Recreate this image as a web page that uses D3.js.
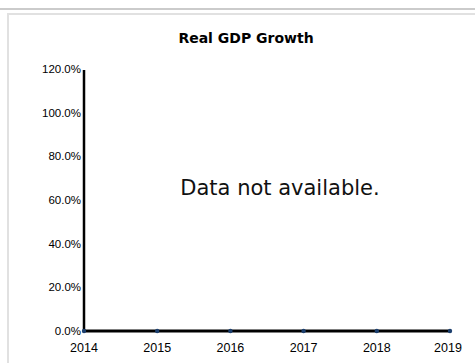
<!DOCTYPE html>
<html>
<head>
<meta charset="utf-8">
<script src="https://cdn.jsdelivr.net/npm/d3@7"></script>
<style>
  html, body { margin: 0; padding: 0; background: #fff; }
  svg { display: block; }
</style>
</head>
<body>
<div id="chart"></div>
<script>
// Chart data
const years = [2014, 2015, 2016, 2017, 2018, 2019];
const growth = [0, 0, 0, 0, 0, 0]; // no data reported, plotted at zero
const yTicks = [0, 0.2, 0.4, 0.6, 0.8, 1.0, 1.2];
const title = 'Real GDP Growth';
const message = 'Data not available.';

const width = 475, height = 363;
const svg = d3.select('#chart')
    .append('svg')
    .attr('width', width)
    .attr('height', height);

// Frame: top rule and the panel border
svg.append('line')
    .attr('x1', 0).attr('x2', width)
    .attr('y1', 9).attr('y2', 9)
    .attr('stroke', '#cbcbcb')
    .attr('stroke-width', 2);

svg.append('rect')
    .attr('x', 8).attr('y', 14)
    .attr('width', width + 20).attr('height', height + 20)
    .attr('fill', 'none')
    .attr('stroke', '#e1e1e1')
    .attr('stroke-width', 2);

// Scales
const x = d3.scaleLinear()
    .domain(d3.extent(years))
    .range([84, 450]);

const y = d3.scaleLinear()
    .domain([0, 1.2])
    .range([331, 69]);

// Title
svg.append('text')
    .attr('x', 246)
    .attr('y', 43)
    .attr('text-anchor', 'middle')
    .style('font-family', 'DejaVu Sans, Verdana, sans-serif')
    .style('font-weight', 'bold')
    .style('font-size', '14px')
    .attr('fill', '#000')
    .text(title);

// Y axis labels
svg.append('g')
    .selectAll('text')
    .data(yTicks)
    .enter()
    .append('text')
    .attr('x', 81)
    .attr('y', d => y(d))
    .attr('dy', '0.35em')
    .attr('text-anchor', 'end')
    .style('font-family', 'Liberation Sans, Arial, sans-serif')
    .style('font-size', '11.5px')
    .attr('fill', '#000')
    .text(d => d3.format('.1%')(d));

// X axis labels
svg.append('g')
    .selectAll('text')
    .data(years)
    .enter()
    .append('text')
    .attr('x', (d, i) => x(d) + (i === years.length - 1 ? -2 : 0))
    .attr('y', 352)
    .attr('text-anchor', 'middle')
    .style('font-family', 'Liberation Sans, Arial, sans-serif')
    .style('font-size', '12.5px')
    .attr('fill', '#000')
    .text(d => d);

// Axis line
svg.append('line')
    .attr('x1', x(years[0])).attr('x2', x(years[0]))
    .attr('y1', y(0)).attr('y2', y(1.2) + 1)
    .attr('stroke', '#000')
    .attr('stroke-width', 2.5);

// Series line at zero
const line = d3.line()
    .x((d, i) => x(years[i]))
    .y(d => y(d));

svg.append('path')
    .datum(growth)
    .attr('d', line)
    .attr('fill', 'none')
    .attr('stroke', '#000')
    .attr('stroke-width', 3);

svg.append('g')
    .selectAll('circle')
    .data(growth)
    .enter()
    .append('circle')
    .attr('cx', (d, i) => x(years[i]))
    .attr('cy', d => y(d))
    .attr('r', 2.2)
    .attr('fill', '#1c3f6e');

// No-data message
svg.append('text')
    .attr('x', 280)
    .attr('y', 195)
    .attr('text-anchor', 'middle')
    .style('font-family', 'DejaVu Sans, Verdana, sans-serif')
    .style('font-size', '21px')
    .attr('fill', '#111')
    .text(message);
</script>
</body>
</html>
